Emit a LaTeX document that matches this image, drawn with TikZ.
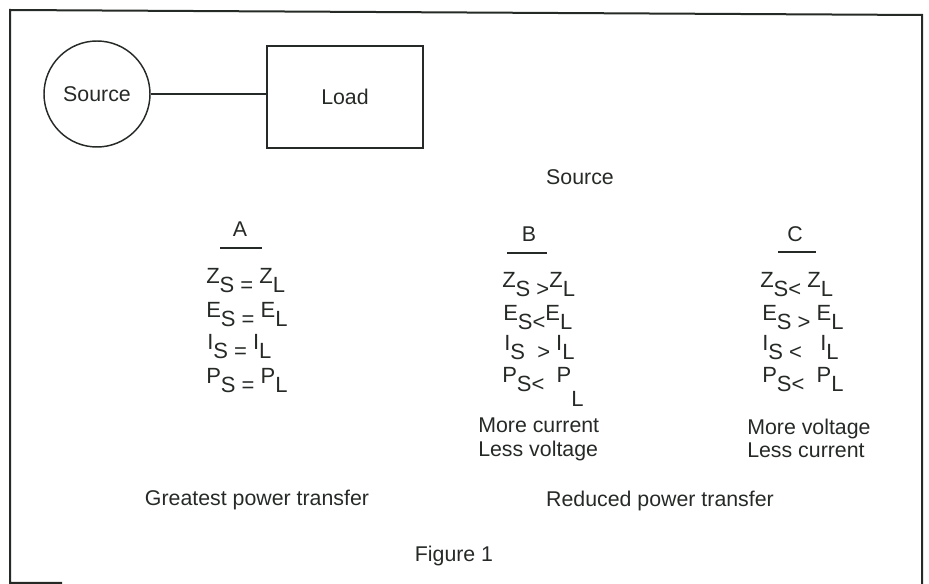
\documentclass[tikz,border=0pt]{standalone}
\usepackage{fontspec}
\setmainfont{Liberation Sans}
\definecolor{ink}{RGB}{38,42,38}
\newcommand{\upl}[1]{\raisebox{7pt}{#1}}
\newcommand{\dnl}[1]{\raisebox{-11pt}{#1}}
\tikzset{
  lbl/.style={inner sep=0pt, anchor=base, text=ink, font=\fontsize{16}{19}\selectfont},
  eqn/.style={inner sep=0pt, anchor=base west, text=ink, font=\fontsize{16.5}{19}\selectfont},
  srcnode/.style={draw=ink, line width=1.1pt, circle, minimum size=79.5pt, inner sep=0pt, text=ink, font=\fontsize{16}{19}\selectfont},
  loadnode/.style={draw=ink, line width=1.1pt, rectangle, minimum width=117pt, minimum height=76.5pt, text=ink, font=\fontsize{16}{19}\selectfont},
  wire/.style={draw=ink, line width=1.3pt},
  rule/.style={draw=ink, line width=1.2pt},
  frame/.style={draw=ink, line width=1.5pt}
}

\begin{document}
\begin{tikzpicture}[x=0.75pt, y=-0.75pt]
  \useasboundingbox (0,0) rectangle (929,584);
  % outer frame, bottom edge mostly missing
  \draw[frame] (62,583) -- (10,583) -- (10,10) -- (922,15) -- (922,584);

  % source and load
  \node[srcnode] (src) at (97,94) {Source};
  \node[loadnode] (load) at (345,97) {Load};
  \draw[wire] (src.east) -- (src.east -| load.west);

  \node[lbl] (srct) at (580,185) {Source};

  % column headers
  \node[lbl] (hA) at (240,237) {A};
  \node[lbl] (hB) at (529,242) {B};
  \node[lbl] (hC) at (795,242) {C};
  \draw[rule] (220,248) -- (262,248);
  \draw[rule] (507,253) -- (547,253);
  \draw[rule] (778,252) -- (816,252);

  % A
  \node[eqn] (a1) at (206,293) {\upl{Z}S = \upl{Z}L};
  \node[eqn] (a2) at (206,327) {\upl{E}S = \upl{E}L};
  \node[eqn] (a3) at (207,359) {\upl{I}S = \upl{I}L};
  \node[eqn] (a4) at (206,393) {\upl{P}S = \upl{P}L};

  % B
  \node[eqn] (b1) at (502,297) {\upl{Z}S >\upl{Z}L};
  \node[eqn] (b2) at (503,330) {\upl{E}S<\upl{E}L};
  \node[eqn] (b3) at (504,360) {\upl{I}S \ > \upl{I}L};
  \node[eqn] (b4) at (502,392) {\upl{P}S< \ \upl{P}\dnl{L}};
  \node[lbl, anchor=base west] (b5) at (478,433) {More current};
  \node[lbl, anchor=base west] (b6) at (478,457) {Less voltage};

  % C
  \node[eqn] (c1) at (760,297) {\upl{Z}S< \upl{Z}L};
  \node[eqn] (c2) at (762,330) {\upl{E}S > \upl{E}L};
  \node[eqn] (c3) at (762,360) {\upl{I}S < \ \ \upl{I}L};
  \node[eqn] (c4) at (762,392) {\upl{P}S< \ \upl{P}L};
  \node[lbl, anchor=base west] (c5) at (747,435) {More voltage};
  \node[lbl, anchor=base west] (c6) at (747,458) {Less current};

  \node[lbl] (gpt) at (257,506) {Greatest power transfer};
  \node[lbl] (rpt) at (660,507) {Reduced power transfer};
  \node[lbl] (fig) at (454,562) {Figure 1};
\end{tikzpicture}
\end{document}
